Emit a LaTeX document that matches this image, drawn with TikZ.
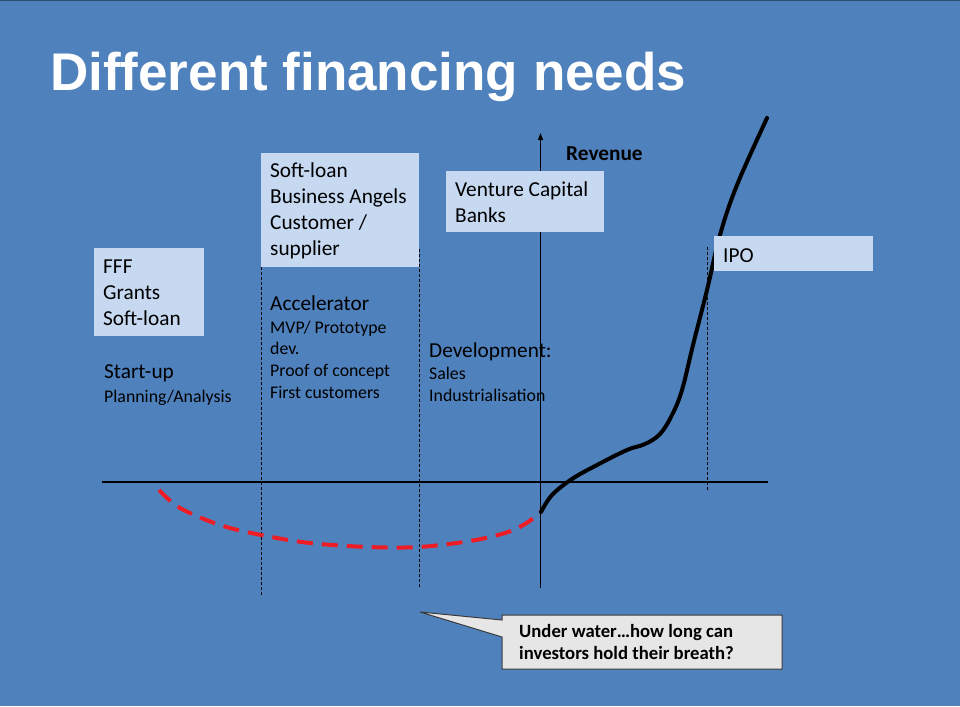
\documentclass[tikz,border=0pt]{standalone}
\usepackage{fontspec}
\setmainfont{Carlito}
\newfontfamily\titlefont{Liberation Sans}
\usetikzlibrary{arrows.meta}
\definecolor{bgblue}{HTML}{4F81BD}
\definecolor{boxblue}{HTML}{C6D9F1}
\definecolor{calloutgrey}{HTML}{E6E6E6}
\definecolor{calloutedge}{HTML}{3A3A3A}
\definecolor{curvered}{HTML}{EE1C25}
\tikzset{
  big/.style={inner sep=0pt, anchor=base west, font=\fontsize{21.3}{26}\selectfont},
  small/.style={inner sep=0pt, anchor=base west, font=\fontsize{17.8}{22}\selectfont},
  boldtxt/.style={inner sep=0pt, anchor=base west, font=\bfseries\fontsize{18.7}{22}\selectfont},
  fbox/.style={fill=boxblue, draw=none, inner sep=0pt, anchor=north west},
  guide/.style={black, line width=0.8pt, dash pattern=on 3pt off 2pt},
  axis/.style={black, line width=1.3pt},
}
\begin{document}
\begin{tikzpicture}[x=1pt,y=-1pt]
\fill[bgblue] (0,0) rectangle (960,706);
\useasboundingbox (0,0) rectangle (960,706);
\draw[line width=1pt, color=bgblue!60!black] (0,0.5) -- (960,0.5);

% title
\node[inner sep=0pt, anchor=base west, text=white,
      font=\titlefont\bfseries\fontsize{53}{60}\selectfont] (title) at (50,91) {Different financing needs};

% dashed guides
\coordinate (g1t) at (261,267); \coordinate (g1b) at (261,595);
\coordinate (g2t) at (419,249); \coordinate (g2b) at (419,587);
\coordinate (g3t) at (707,247); \coordinate (g3b) at (707,490);
\draw[guide] (g1t) -- (g1b);
\draw[guide] (g2t) -- (g2b);
\draw[guide] (g3t) -- (g3b);

% axes
\coordinate (xl) at (102,482); \coordinate (xr) at (768,482);
\coordinate (yb) at (540.5,588); \coordinate (yt) at (540.5,133);
\draw[axis] (xl) -- (xr);
\draw[axis, -{Triangle[length=7pt,width=5pt]}] (yb) -- (yt);

% curves
\draw[curvered, line width=4pt, dash pattern=on 16pt off 9pt]
  plot[smooth, tension=0.55] coordinates {(159,490) (180,508) (220,525) (261,535) (310,543) (368,547) (419,547) (470,541) (505,533) (525,524) (541,512)};
\draw[black, line width=4pt, line cap=round]
  plot[smooth, tension=0.6] coordinates {(541,512) (552,495) (572,479) (597,465) (627,450) (645,444) (660,434) (672,415) (682,390) (693,345) (707,290) (720,235) (737,185) (767,118)};

% boxes
\node[fbox, minimum width=110pt, minimum height=88pt] (fffbox) at (94,248) {};
\node[fbox, minimum width=158pt, minimum height=114pt] (softbox) at (261,153) {};
\node[fbox, minimum width=158pt, minimum height=61pt] (vcbox) at (446,171) {};
\node[fbox, minimum width=159pt, minimum height=35pt] (ipobox) at (714,236) {};

% box texts
\node[big] (fff1) at (103,273) {FFF};
\node[big] (fff2) at (103,299) {Grants};
\node[big] (fff3) at (103,325) {Soft-loan};

\node[big] (sl1) at (270,177) {Soft-loan};
\node[big] (sl2) at (270,203) {Business Angels};
\node[big] (sl3) at (270,229) {Customer /};
\node[big] (sl4) at (270,255) {supplier};

\node[big] (vc1) at (455,196) {Venture Capital};
\node[big] (vc2) at (455,222) {Banks};

\node[big] (ipo) at (723,262) {IPO};

% stage texts
\node[big] (st1) at (104,378) {Start-up};
\node[small] (st2) at (104,402) {Planning/Analysis};

\node[big] (ac1) at (270,310) {Accelerator};
\node[small] (ac2) at (270,333) {MVP/ Prototype};
\node[small] (ac3) at (270,354) {dev.};
\node[small] (ac4) at (270,376) {Proof of concept};
\node[small] (ac5) at (270,398) {First customers};

\node[big] (dv1) at (429,357) {Development:};
\node[small] (dv2) at (429,379) {Sales};
\node[small] (dv3) at (429,401) {Industrialisation};

\node[inner sep=0pt, anchor=base west, font=\bfseries\fontsize{21.3}{26}\selectfont] (rev) at (566,160) {Revenue};

% callout
\coordinate (tip) at (420,612);
\filldraw[fill=calloutgrey, draw=calloutedge, line width=1pt]
  (502,615) -- (782,615) -- (782,669) -- (502,669) -- (502,637) -- (tip) -- (502,620) -- cycle;
\node[boldtxt] (cl1) at (519,637) {Under water…how long can};
\node[boldtxt] (cl2) at (519,659) {investors hold their breath?};
\end{tikzpicture}
\end{document}
